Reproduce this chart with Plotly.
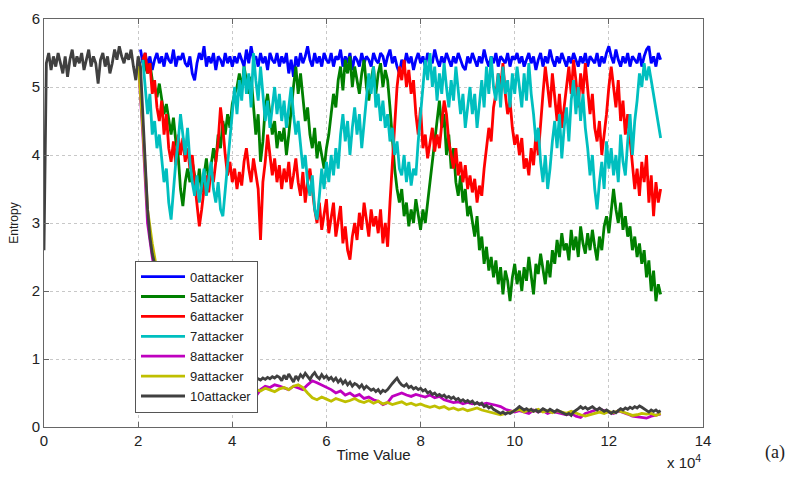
import numpy as np
import plotly.graph_objects as go

# ---- data (time in units of 1e4) ----
blue_t0, blue_dt = 2.05, 0.05
blue_y = [
 5.55, 5.35, 5.5, 5.3, 5.45, 5.25, 5.4, 5.5, 5.35, 5.45, 5.3, 5.5, 5.4, 5.35, 5.55, 5.3, 5.45, 5.4, 5.5, 5.35,
 5.3, 5.45, 5.2, 5.1, 5.35, 5.5, 5.4, 5.6, 5.3, 5.45, 5.35, 5.5, 5.25, 5.45, 5.4, 5.3, 5.5, 5.35, 5.45, 5.3,
 5.45, 5.35, 5.5, 5.4, 5.3, 5.55, 5.35, 5.6, 5.4, 5.45, 5.3, 5.5, 5.35, 5.45, 5.25, 5.5, 5.4, 5.35, 5.5, 5.3,
 5.45, 5.35, 5.5, 5.2, 5.4, 5.15, 5.45, 5.3, 5.5, 5.35, 5.45, 5.6, 5.4, 5.3, 5.5, 5.35, 5.45, 5.3, 5.5, 5.4,
 5.35, 5.5, 5.3, 5.45, 5.4, 5.55, 5.3, 5.45, 5.35, 5.5, 5.25, 5.45, 5.4, 5.3, 5.5, 5.35, 5.45, 5.4, 5.3, 5.5,
 5.4, 5.35, 5.5, 5.45, 5.3, 5.45, 5.55, 5.35, 5.45, 5.3, 5.2, 5.4, 5.3, 5.5, 5.35, 5.45, 5.25, 5.4, 5.5, 5.35,
 5.45, 5.3, 5.5, 5.4, 5.35, 5.55, 5.4, 5.3, 5.45, 5.35, 5.5, 5.4, 5.3, 5.45, 5.35, 5.5, 5.4, 5.3, 5.25, 5.45,
 5.35, 5.5, 5.4, 5.3, 5.45, 5.35, 5.55, 5.4, 5.3, 5.45, 5.35, 5.5, 5.3, 5.45, 5.4, 5.35, 5.5, 5.3, 5.45, 5.4,
 5.5, 5.35, 5.45, 5.3, 5.4, 5.5, 5.35, 5.45, 5.25, 5.4, 5.5, 5.3, 5.45, 5.35, 5.55, 5.4, 5.3, 5.45, 5.35, 5.5,
 5.4, 5.3, 5.45, 5.35, 5.5, 5.4, 5.3, 5.45, 5.35, 5.5, 5.3, 5.45, 5.4, 5.35, 5.5, 5.3, 5.45, 5.35, 5.5, 5.6,
 5.45, 5.35, 5.55, 5.4, 5.3, 5.45, 5.35, 5.5, 5.3, 5.45, 5.4, 5.35, 5.5, 5.3, 5.45, 5.55, 5.6, 5.35, 5.45, 5.3,
 5.5, 5.4]

green_t0, green_dt = 2.1, 0.05
green_y = [
 5.4, 5.3, 5.2, 5.35, 5.1, 5.0, 4.85, 5.05, 4.8, 4.6, 4.75, 4.5, 4.3, 4.55, 4.2, 4.0, 3.5, 3.25, 3.6, 3.8,
 3.6, 3.9, 3.7, 3.5, 3.8, 3.45, 3.7, 3.95, 3.6, 3.85, 4.1, 3.9, 4.3, 4.1, 4.5, 4.3, 4.6, 4.4, 4.75, 4.9,
 5.0, 5.2, 4.95, 5.3, 5.1, 4.9, 5.15, 4.7, 4.3, 4.6, 3.9, 4.2, 4.7, 4.9, 4.6, 4.3, 4.5, 4.1, 4.35, 4.2,
 4.4, 4.0, 4.3, 4.7, 5.0, 5.3, 4.9, 5.2, 4.8, 4.5, 4.7, 4.3, 4.1, 4.4, 3.95, 4.2, 4.0, 3.8, 4.1, 4.3,
 4.6, 4.9, 4.7, 5.1, 5.3, 4.95, 5.4, 5.2, 5.45, 5.0, 5.3, 5.1, 4.9, 5.2, 5.4, 5.0, 4.8, 5.1, 5.3, 4.9,
 5.2, 5.35, 5.0, 5.25, 5.1, 4.7, 4.2, 3.8, 3.5, 3.3, 3.5, 3.1, 3.3, 2.95, 3.2, 3.0, 3.35, 3.1, 2.9, 3.2,
 3.0, 3.3, 3.6, 3.9, 4.2, 4.5, 4.8, 4.4, 4.6, 4.0, 4.3, 3.8, 4.1, 3.6, 3.4, 3.7, 3.3, 3.5, 3.1, 3.25,
 3.0, 2.8, 3.1, 2.6, 2.8, 2.4, 2.65, 2.3, 2.5, 2.2, 2.45, 2.1, 2.35, 1.95, 2.3, 2.15, 1.85, 2.2, 2.4, 2.1,
 2.3, 2.0, 2.35, 2.15, 2.5, 2.2, 1.95, 2.4, 2.25, 2.55, 2.3, 2.1, 2.45, 2.2, 2.6, 2.4, 2.75, 2.5, 2.85, 2.6,
 2.7, 2.45, 2.9, 2.6, 2.8, 2.5, 2.95, 2.7, 2.55, 2.85, 2.6, 2.9, 2.65, 2.45, 2.8, 2.6, 2.95, 3.1, 2.85, 3.2,
 3.5, 3.2, 3.0, 3.3, 2.9, 3.1, 2.8, 2.95, 2.6, 2.8, 2.5, 2.7, 2.4, 2.6, 2.2, 2.45, 2.0, 2.3, 1.85, 2.1,
 1.95]

red_t0, red_dt = 2.1, 0.05
red_y = [
 5.4, 5.5, 5.2, 5.35, 4.9, 5.1, 4.7, 4.5, 4.8, 4.3, 4.6, 4.1, 3.9, 4.2, 3.85, 4.3, 4.0, 4.25, 3.9, 4.1,
 3.8, 4.0, 3.6, 3.3, 2.95, 3.2, 3.5, 3.7, 3.45, 3.8, 3.6, 3.9, 4.2, 4.7, 4.4, 4.0, 3.7, 3.9, 3.6, 3.8,
 3.5, 3.75, 3.55, 3.9, 4.1, 3.8, 3.6, 3.95, 3.7, 3.5, 2.75, 3.6, 3.9, 4.3, 4.0, 3.7, 3.95, 3.6, 3.85, 3.5,
 3.8, 3.6, 3.9, 3.5, 3.7, 3.95, 3.6, 3.4, 3.75, 3.3, 3.6, 3.8, 3.5, 3.2, 3.0, 3.3, 2.9, 3.1, 3.35, 2.85,
 3.1, 3.3, 2.8, 3.0, 3.25, 2.7, 2.95, 2.6, 2.46, 2.8, 3.0, 2.75, 3.15, 2.9, 3.3, 3.05, 2.8, 3.2, 2.95, 3.1,
 2.85, 3.2, 2.7, 3.0, 2.65, 3.3, 3.9, 4.5, 5.0, 5.3, 5.1, 5.4, 5.0, 5.25, 4.9, 5.1, 4.6, 4.3, 4.7, 4.1,
 4.3, 3.95, 4.2, 4.4, 4.05, 4.3, 4.1, 4.5, 4.8, 4.6, 4.2, 4.0, 3.8, 4.1, 3.7, 3.9, 3.6, 3.85, 3.5, 3.7,
 3.45, 3.65, 3.3, 3.55, 3.4, 3.8, 4.1, 4.4, 4.2, 4.7, 4.9, 5.2, 5.0, 5.35, 4.9, 4.6, 4.8, 4.4, 4.15, 4.3,
 4.0, 4.25, 3.8, 3.95, 3.7, 4.1, 3.85, 4.3, 4.0, 4.5, 4.9, 5.3, 5.0, 4.7, 5.2, 4.8, 4.5, 4.9, 4.4, 4.7,
 5.0, 5.3, 4.9, 5.4, 5.1, 4.7, 5.2, 4.9, 5.35, 5.0, 4.6, 4.9, 4.4, 4.2, 4.5, 4.0, 4.3, 4.6, 5.0, 5.3,
 5.0, 4.7, 5.1, 4.5, 4.8, 4.3, 4.6, 4.2, 3.9, 3.5, 3.8, 3.4, 3.9, 3.6, 4.0, 3.3, 3.7, 3.1, 3.6, 3.3,
 3.5]

cyan_t0, cyan_dt = 2.1, 0.05
cyan_y = [
 5.4, 5.0, 4.6, 4.9, 4.3, 4.5, 4.1, 4.3, 3.9, 3.6, 3.8, 3.3, 3.05, 3.5, 3.9, 4.2, 4.6, 4.3, 4.0, 4.4,
 3.9, 3.6, 3.4, 3.7, 3.3, 3.55, 3.8, 3.4, 3.65, 3.9, 3.5, 3.3, 3.6, 3.2, 3.1, 3.5, 3.9, 4.3, 4.7, 5.0,
 4.6, 5.1, 4.8, 5.3, 4.9, 5.2, 4.7, 5.5, 5.1, 4.8, 5.3, 4.9, 4.5, 4.8, 4.4, 4.7, 5.0, 4.6, 4.9, 4.5,
 4.8, 4.4, 4.7, 5.0, 4.6, 4.3, 4.5, 4.1, 3.8, 4.0, 3.6, 3.4, 3.7, 3.2, 3.05, 3.4, 3.8, 3.5, 3.9, 3.6,
 4.0, 3.7, 4.1, 3.8, 4.3, 4.6, 4.2, 4.5, 4.0, 4.4, 4.7, 4.3, 4.6, 4.1, 4.5, 4.8, 5.2, 4.9, 5.3, 4.7,
 4.9, 4.5, 4.8, 4.4, 4.6, 4.2, 4.4, 4.0, 4.2, 3.8, 3.7, 4.0, 3.6, 3.9, 3.55, 3.8, 3.7, 4.2, 4.6, 5.0,
 5.4, 5.1, 5.5, 5.0, 5.3, 4.8, 5.2, 4.9, 5.35, 5.0, 4.7, 5.1, 4.8, 5.3, 4.9, 4.6, 4.9, 4.4, 4.7, 5.0,
 4.6, 4.9, 4.4, 4.8, 5.1, 4.7, 5.3, 4.9, 5.45, 5.0, 4.8, 5.2, 4.7, 5.3, 4.9, 5.1, 4.7, 5.2, 4.9, 5.3,
 5.0, 4.7, 5.2, 4.8, 5.35, 4.9, 4.6, 4.2, 4.4, 3.9, 3.6, 4.0, 3.5, 3.8, 4.2, 4.5, 4.1, 4.6, 3.95, 4.4,
 4.7, 4.2, 4.8, 5.1, 4.6, 5.0, 4.5, 4.9, 4.4, 4.1, 3.7, 4.0, 3.5, 3.2, 3.6, 3.9, 3.5, 4.2, 3.8, 4.1,
 3.7, 4.0, 3.6, 4.3, 3.9, 3.7, 4.2, 4.6, 4.0, 4.5, 4.8, 5.2, 5.0, 5.35, 5.1, 5.3, 5.1, 4.9, 4.7, 4.5,
 4.25]

magenta_t0, magenta_dt = 2.0, 0.1
magenta_y = [
 5.4, 4.3, 3.0, 2.5, 2.1, 1.8, 1.6, 1.45, 1.3, 1.2,
 1.1, 1.05, 1.0, 0.95, 0.9, 0.85, 0.8, 0.75, 0.72, 0.7,
 0.65, 0.6, 0.57, 0.52, 0.5, 0.45, 0.55, 0.6, 0.58, 0.62,
 0.6, 0.58, 0.55, 0.6, 0.57, 0.55, 0.62, 0.68, 0.65, 0.62,
 0.58, 0.55, 0.5, 0.53, 0.47, 0.5, 0.45, 0.48, 0.42, 0.44,
 0.4, 0.38, 0.33, 0.36, 0.45, 0.48, 0.5, 0.47, 0.45, 0.48,
 0.46, 0.44, 0.47, 0.43, 0.45, 0.4, 0.38, 0.36, 0.37, 0.34,
 0.36, 0.34, 0.35, 0.33, 0.35, 0.34, 0.32, 0.3, 0.26, 0.24,
 0.22, 0.24, 0.22, 0.2, 0.25, 0.22, 0.24, 0.2, 0.23, 0.21,
 0.2, 0.18, 0.2, 0.16, 0.14, 0.2, 0.22, 0.25, 0.27, 0.24,
 0.22, 0.2, 0.24, 0.22, 0.19, 0.16, 0.15, 0.15, 0.13, 0.16,
 0.18, 0.19]

yellow_t0, yellow_dt = 2.0, 0.1
yellow_y = [
 5.4, 4.4, 3.2, 2.7, 2.3, 1.9, 1.65, 1.5, 1.35, 1.25,
 1.15, 1.05, 0.98, 0.92, 0.86, 0.8, 0.75, 0.7, 0.66, 0.63,
 0.6, 0.57, 0.49, 0.52, 0.56, 0.55, 0.53, 0.57, 0.55, 0.52,
 0.56, 0.58, 0.55, 0.6, 0.62, 0.58, 0.5, 0.43, 0.4, 0.44,
 0.41, 0.38, 0.42, 0.4, 0.37, 0.39, 0.42, 0.38, 0.36, 0.39,
 0.35, 0.38, 0.34, 0.36, 0.33, 0.35, 0.37, 0.33, 0.35, 0.32,
 0.34, 0.31, 0.29, 0.31, 0.28, 0.3, 0.26, 0.28, 0.25, 0.27,
 0.24, 0.26, 0.28, 0.25, 0.23, 0.21, 0.2, 0.18, 0.2, 0.22,
 0.24, 0.26, 0.22, 0.25, 0.23, 0.26, 0.22, 0.24, 0.21, 0.24,
 0.22, 0.2, 0.23, 0.2, 0.18, 0.16, 0.18, 0.2, 0.22, 0.2,
 0.23, 0.21, 0.24, 0.22, 0.2, 0.17, 0.18, 0.2, 0.19, 0.2,
 0.17, 0.2]

black_t0, black_dt = 0.0, 0.05
black_y = [
 2.6, 5.35, 5.5, 5.25, 5.45, 5.3, 5.5, 5.35, 5.2, 5.45, 5.15, 5.4, 5.55, 5.3, 5.45, 5.35, 5.5, 5.25, 5.4, 5.55,
 5.3, 5.45, 5.35, 5.05, 5.4, 5.5, 5.3, 5.45, 5.2, 5.35, 5.55, 5.4, 5.6, 5.45, 5.35, 5.5, 5.4, 5.55, 5.3, 5.1,
 5.45, 5.3, 4.6, 3.9, 3.2, 2.8, 2.55, 2.4, 2.25, 2.1, 1.95, 1.8, 1.7, 1.6, 1.5, 1.42, 1.35, 1.3, 1.25, 1.2,
 1.15, 1.1, 1.06, 1.02, 0.98, 0.95, 0.92, 0.9, 0.88, 0.86, 0.84, 0.82, 0.8, 0.79, 0.78, 0.77, 0.76, 0.75, 0.74, 0.73,
 0.72, 0.71, 0.7, 0.7, 0.69, 0.7, 0.68, 0.69, 0.7, 0.68, 0.7, 0.71, 0.69, 0.72, 0.7, 0.73, 0.71, 0.74, 0.72, 0.75,
 0.73, 0.68, 0.76, 0.7, 0.78, 0.72, 0.66, 0.75, 0.7, 0.77, 0.73, 0.79, 0.74, 0.7, 0.76, 0.8, 0.74, 0.71, 0.77, 0.72,
 0.75, 0.7, 0.73, 0.68, 0.72, 0.66, 0.7, 0.64, 0.68, 0.62, 0.66, 0.6, 0.64, 0.62, 0.58, 0.62, 0.56, 0.6, 0.57, 0.54,
 0.56, 0.52, 0.55, 0.5, 0.54, 0.52, 0.55, 0.6, 0.64, 0.68, 0.72, 0.66, 0.62, 0.6, 0.63, 0.58, 0.6, 0.56, 0.58, 0.55,
 0.57, 0.53, 0.55, 0.5, 0.52, 0.48, 0.5, 0.46, 0.48, 0.45, 0.47, 0.43, 0.45, 0.42, 0.44, 0.4, 0.42, 0.38, 0.4, 0.37,
 0.39, 0.36, 0.38, 0.34, 0.36, 0.33, 0.35, 0.3, 0.32, 0.28, 0.3, 0.26, 0.24, 0.22, 0.2, 0.22, 0.19, 0.21, 0.2, 0.22,
 0.24, 0.27, 0.3, 0.28, 0.25, 0.27, 0.24, 0.26, 0.23, 0.25, 0.22, 0.24, 0.27, 0.25, 0.23, 0.26, 0.24, 0.22, 0.25, 0.23,
 0.21, 0.2, 0.18, 0.2, 0.17, 0.22, 0.24, 0.27, 0.3, 0.27, 0.29, 0.26, 0.28, 0.3, 0.27, 0.25, 0.28, 0.26, 0.23, 0.25,
 0.22, 0.2, 0.23, 0.21, 0.24, 0.27, 0.25, 0.28, 0.26, 0.29, 0.27, 0.3, 0.28, 0.31, 0.29, 0.27, 0.24, 0.22, 0.25, 0.23,
 0.25, 0.22, 0.24]

series_names = ["0attacker", "5attacker", "6attacker", "7attacker", "8attacker", "9attacker", "10attacker"]
series_colors = ["#0000FF", "#008000", "#FF0000", "#00BFBF", "#BF00BF", "#BFBF00", "#404040"]
x_ticks = [0, 2, 4, 6, 8, 10, 12, 14]
y_ticks = [0, 1, 2, 3, 4, 5, 6]

series = [
    (blue_t0, blue_dt, blue_y),
    (green_t0, green_dt, green_y),
    (red_t0, red_dt, red_y),
    (cyan_t0, cyan_dt, cyan_y),
    (magenta_t0, magenta_dt, magenta_y),
    (yellow_t0, yellow_dt, yellow_y),
    (black_t0, black_dt, black_y),
]

fig = go.Figure()
for (t0, dt, ys), name, col in zip(series, series_names, series_colors):
    t = t0 + dt * np.arange(len(ys))
    fig.add_trace(go.Scatter(x=t, y=ys, mode="lines", name=name,
                             line=dict(color=col, width=2.8)))

axis_common = dict(showline=True, linecolor="#666666", linewidth=1, mirror="ticks",
                   ticks="inside", ticklen=5, tickcolor="#666666",
                   showgrid=True, gridcolor="#c8c8c8", griddash="dot", gridwidth=1,
                   zeroline=False, tickfont=dict(size=15, color="#222222"))

fig.update_layout(
    width=799, height=490,
    margin=dict(l=44, r=96, t=10, b=63),
    paper_bgcolor="white", plot_bgcolor="white",
    font=dict(family="Liberation Sans, Arial, sans-serif", color="#222222"),
    showlegend=True,
    legend=dict(x=(135 - 44) / 659, y=(427 - 257) / 417, xanchor="left", yanchor="top",
                bgcolor="white", bordercolor="#555555", borderwidth=1, itemwidth=44,
                font=dict(size=13, color="#222222"), tracegroupgap=0),
    xaxis=dict(range=[0, 14], tickvals=x_ticks, ticktext=[str(v) for v in x_ticks],
               title=dict(text="Time Value", font=dict(size=15), standoff=1), **axis_common),
    yaxis=dict(range=[0, 6], tickvals=y_ticks, ticktext=[str(v) for v in y_ticks],
               title=dict(text="Entropy", font=dict(size=12), standoff=10), **axis_common),
    annotations=[
        dict(text="x 10<sup>4</sup>", xref="paper", yref="paper", x=1.0, y=-0.084,
             xanchor="right", yanchor="middle", showarrow=False, font=dict(size=15)),
        dict(text="(a)", xref="paper", yref="paper", x=(775 - 44) / 659, y=-0.062,
             xanchor="center", yanchor="middle", showarrow=False,
             font=dict(size=18, family="Liberation Serif, Times New Roman, serif")),
    ],
)

fig.write_html("out.html")
